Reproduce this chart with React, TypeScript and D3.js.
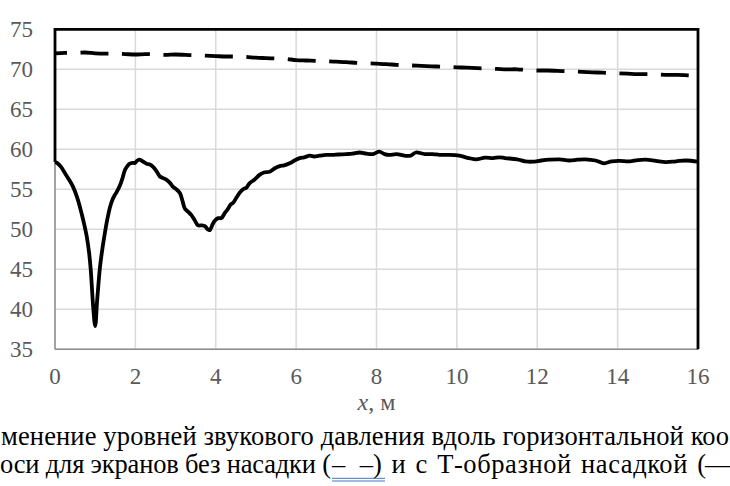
import React from "react";
import * as d3 from "d3";

const solidX = [0, 0.05, 0.15, 0.25, 0.35, 0.45, 0.55, 0.62, 0.7, 0.79, 0.85, 0.89, 0.95, 1.0, 1.05, 1.12, 1.18, 1.24, 1.3, 1.37, 1.43, 1.49, 1.55, 1.61, 1.68, 1.74, 1.8, 1.86, 1.93, 1.99, 2.05, 2.11, 2.18, 2.28, 2.36, 2.44, 2.52, 2.61, 2.69, 2.77, 2.86, 2.94, 3.02, 3.11, 3.17, 3.23, 3.31, 3.39, 3.47, 3.56, 3.65, 3.73, 3.8, 3.85, 3.92, 3.98, 4.06, 4.14, 4.22, 4.31, 4.37, 4.43, 4.52, 4.6, 4.68, 4.76, 4.84, 4.96, 5.09, 5.2, 5.34, 5.46, 5.59, 5.7, 5.84, 5.96, 6.09, 6.2, 6.34, 6.45, 6.58, 6.75, 6.9, 7.05, 7.25, 7.4, 7.58, 7.75, 7.91, 8.07, 8.2, 8.32, 8.5, 8.7, 8.85, 8.98, 9.2, 9.4, 9.57, 9.8, 10.06, 10.3, 10.48, 10.7, 10.9, 11.06, 11.2, 11.5, 11.7, 11.88, 12.1, 12.3, 12.55, 12.8, 13.0, 13.2, 13.45, 13.66, 13.85, 14.04, 14.3, 14.5, 14.7, 14.95, 15.2, 15.45, 15.7, 16.0];
const solidY = [58.4, 58.3, 57.8, 57.0, 56.2, 55.3, 54.0, 52.8, 51.2, 49.1, 47.0, 44.9, 40.3, 37.9, 41.2, 45.3, 47.6, 49.5, 51.2, 52.8, 53.7, 54.3, 54.8, 55.4, 56.4, 57.4, 57.9, 58.2, 58.3, 58.3, 58.6, 58.7, 58.5, 58.2, 58.1, 57.8, 57.3, 56.6, 56.4, 56.2, 55.8, 55.3, 55.0, 54.5, 53.6, 52.6, 52.2, 51.8, 51.2, 50.5, 50.5, 50.4, 50.0, 49.9, 50.6, 51.1, 51.4, 51.4, 52.0, 52.6, 53.1, 53.3, 54.0, 54.6, 55.0, 55.2, 55.75, 56.2, 56.8, 57.1, 57.2, 57.6, 57.9, 58.0, 58.25, 58.6, 58.9, 59.0, 59.2, 59.1, 59.2, 59.3, 59.3, 59.35, 59.4, 59.45, 59.6, 59.45, 59.4, 59.7, 59.4, 59.3, 59.4, 59.2, 59.2, 59.6, 59.4, 59.4, 59.3, 59.3, 59.2, 58.9, 58.75, 58.95, 58.9, 59.0, 58.9, 58.75, 58.5, 58.45, 58.6, 58.7, 58.75, 58.6, 58.7, 58.75, 58.6, 58.25, 58.5, 58.55, 58.5, 58.65, 58.7, 58.55, 58.4, 58.5, 58.6, 58.45];

const dashX = [0, 0.25, 0.5, 0.75, 1.0, 1.25, 1.5, 1.75, 2.0, 2.25, 2.5, 2.75, 3.0, 3.25, 3.5, 3.75, 4.0, 4.25, 4.5, 4.75, 5.0, 5.25, 5.5, 5.75, 6.0, 6.25, 6.5, 6.75, 7.0, 7.25, 7.5, 7.75, 8.0, 8.25, 8.5, 8.75, 9.0, 9.25, 9.5, 9.75, 10.0, 10.25, 10.5, 10.75, 11.0, 11.25, 11.5, 11.75, 12.0, 12.25, 12.5, 12.75, 13.0, 13.25, 13.5, 13.75, 14.0, 14.25, 14.5, 14.75, 15.0, 15.25, 15.5, 15.75, 16.0];
const dashY = [72.0, 72.05, 72.05, 72.1, 72.0, 71.95, 71.95, 71.9, 71.85, 71.9, 71.85, 71.8, 71.85, 71.8, 71.75, 71.7, 71.65, 71.6, 71.6, 71.55, 71.45, 71.4, 71.35, 71.3, 71.15, 71.1, 71.05, 71.0, 70.95, 70.9, 70.8, 70.75, 70.7, 70.65, 70.55, 70.5, 70.45, 70.4, 70.35, 70.3, 70.25, 70.2, 70.15, 70.1, 70.05, 70.0, 70.0, 69.9, 69.85, 69.85, 69.8, 69.75, 69.7, 69.65, 69.6, 69.55, 69.5, 69.45, 69.4, 69.4, 69.35, 69.3, 69.3, 69.25, 69.2];

const xTicks = [0, 2, 4, 6, 8, 10, 12, 14, 16];
const yTicks = [35, 40, 45, 50, 55, 60, 65, 70, 75];

const captionLine1 = "менение уровней звукового давления вдоль горизонтальной коо";
const captionLine2a = "оси для экранов без насадки (";
const captionLine2b = "–\u00A0 –";
const captionLine2c = ") и с Т-образной насадкой (";
const captionLine2d = "——";

const W = 730;
const H = 486;
const L = 55;
const R = 698;
const T = 29.3;
const B = 349.3;

const ts = { fontFamily: "Liberation Serif" };

export default function App() {
  const x = d3.scaleLinear().domain([0, 16]).range([L, R]);
  const y = d3.scaleLinear().domain([35, 75]).range([B, T]);
  const solid = d3
    .line<number>()
    .x((_, i) => x(solidX[i]))
    .y((d) => y(d))
    .curve(d3.curveCatmullRom.alpha(0.5));
  const dashed = d3
    .line<number>()
    .x((_, i) => x(dashX[i]))
    .y((d) => y(d))
    .curve(d3.curveCatmullRom.alpha(0.5));
  const frame = `M${x(0)},${y(solidY[0])}L${x(0)},${y(75)}L${x(16)},${y(75)}L${x(16)},${y(35)}`;
  return (
    <svg width={W} height={H} style={{ position: "fixed", left: 0, top: 0, background: "#fff" }}>
      <rect width={W} height={H} fill="#fff" />
      {xTicks.map((t) => (
        <line key={"gx" + t} x1={x(t)} x2={x(t)} y1={y(35)} y2={y(75)} stroke="#d9d9d9" strokeWidth={1.5} />
      ))}
      {yTicks.map((t) => (
        <line key={"gy" + t} x1={x(0)} x2={x(16)} y1={y(t)} y2={y(t)} stroke="#d9d9d9" strokeWidth={1.5} />
      ))}
      <line x1={x(0)} x2={x(0)} y1={y(35)} y2={y(75)} stroke="#8c8c8c" strokeWidth={1.5} />
      <line x1={x(0)} x2={x(16)} y1={y(35)} y2={y(35)} stroke="#8c8c8c" strokeWidth={1.5} />
      <path d={frame} fill="none" stroke="#000" strokeWidth={2.8} />
      <path
        d={dashed(dashY) || ""}
        fill="none"
        stroke="#000"
        strokeWidth={3.8}
        strokeDasharray="28 13.5"
        strokeDashoffset={16}
        strokeLinejoin="round"
      />
      <path d={solid(solidY) || ""} fill="none" stroke="#000" strokeWidth={3.8} strokeLinejoin="round" />
      {yTicks.map((t) => (
        <text key={"ty" + t} style={ts} x={33} y={y(t)} dy="0.35em" textAnchor="end" fontSize={23} fill="#595959">
          {t}
        </text>
      ))}
      {xTicks.map((t) => (
        <text key={"tx" + t} style={ts} x={x(t)} y={384} textAnchor="middle" fontSize={23} fill="#595959">
          {t}
        </text>
      ))}
      <text style={ts} x={(x(0) + x(16)) / 2} y={410} textAnchor="middle" fontSize={24} fill="#595959">
        <tspan fontStyle="italic">x</tspan>, м
      </text>
      <text style={ts} x={1} y={445} fontSize={26.5} fill="#000" textLength={728} lengthAdjust="spacing">
        {captionLine1}
      </text>
      <text style={ts} x={0} y={473} fontSize={26.5} fill="#000" textLength={331} lengthAdjust="spacing">
        {captionLine2a}
      </text>
      <text style={ts} x={332} y={473} fontSize={26.5} fill="#000" textLength={41} lengthAdjust="spacing">
        {captionLine2b}
      </text>
      <text
        style={{ ...ts, wordSpacing: "2px" }}
        x={373}
        y={473}
        fontSize={26.5}
        fill="#000"
        textLength={333}
        lengthAdjust="spacing"
      >
        {captionLine2c}
      </text>
      <text style={ts} x={705} y={473} fontSize={26.5} fill="#000">
        {captionLine2d}
      </text>
      <line x1={332} x2={385} y1={478.3} y2={478.3} stroke="#4472c4" strokeWidth={1} />
      <line x1={332} x2={385} y1={481} y2={481} stroke="#4472c4" strokeWidth={1} />
    </svg>
  );
}
